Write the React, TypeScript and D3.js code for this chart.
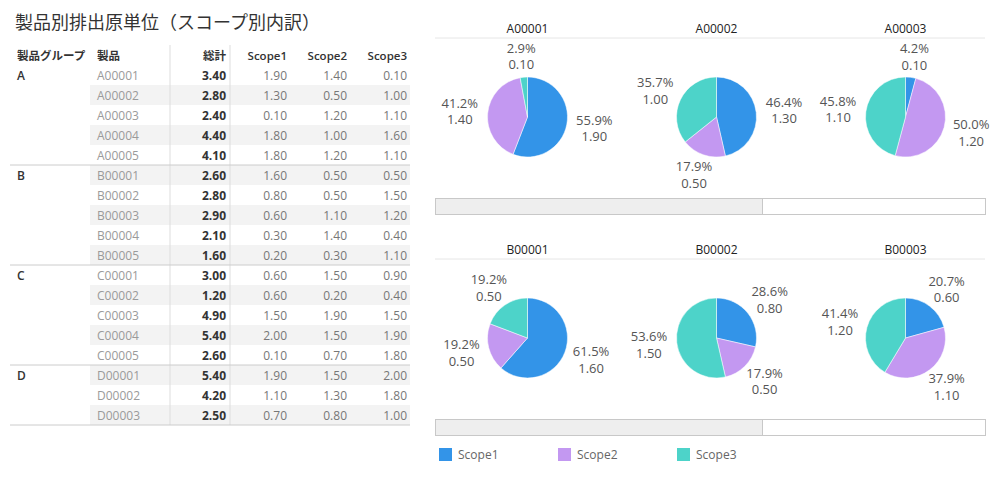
import * as d3 from 'd3';

// table data
const groups = ['A', 'B', 'C', 'D'];
const products = [
  'A00001', 'A00002', 'A00003', 'A00004', 'A00005',
  'B00001', 'B00002', 'B00003', 'B00004', 'B00005',
  'C00001', 'C00002', 'C00003', 'C00004', 'C00005',
  'D00001', 'D00002', 'D00003',
];
const productGroup = [
  'A', 'A', 'A', 'A', 'A',
  'B', 'B', 'B', 'B', 'B',
  'C', 'C', 'C', 'C', 'C',
  'D', 'D', 'D',
];
const totals = [3.4, 2.8, 2.4, 4.4, 4.1, 2.6, 2.8, 2.9, 2.1, 1.6, 3.0, 1.2, 4.9, 5.4, 2.6, 5.4, 4.2, 2.5];
const scope1 = [1.9, 1.3, 0.1, 1.8, 1.8, 1.6, 0.8, 0.6, 0.3, 0.2, 0.6, 0.6, 1.5, 2.0, 0.1, 1.9, 1.1, 0.7];
const scope2 = [1.4, 0.5, 1.2, 1.0, 1.2, 0.5, 0.5, 1.1, 1.4, 0.3, 1.5, 0.2, 1.9, 1.5, 0.7, 1.5, 1.3, 0.8];
const scope3 = [0.1, 1.0, 1.1, 1.6, 1.1, 0.5, 1.5, 1.2, 0.4, 1.1, 0.9, 0.4, 1.5, 1.9, 1.8, 2.0, 1.8, 1.0];

const scopes = ['Scope1', 'Scope2', 'Scope3'];
const scopeColors = ['#3394e8', '#c398f1', '#4dd3c9'];

// pies shown on the right
const pieRows = [
  ['A00001', 'A00002', 'A00003'],
  ['B00001', 'B00002', 'B00003'],
];

const title = '製品別排出原単位（スコープ別内訳）';
const font = '"Open Sans", "Noto Sans CJK JP", sans-serif';

interface Slice {
  scope: string;
  value: number;
}

function PiePanel({ product, cx, top }: { product: string; cx: number; top: number }) {
  const i = products.indexOf(product);
  const data: Slice[] = [
    { scope: 'Scope1', value: scope1[i] },
    { scope: 'Scope2', value: scope2[i] },
    { scope: 'Scope3', value: scope3[i] },
  ];
  const total = d3.sum(data, (d) => d.value);
  const r = 40;
  const cy = top + 84;
  const arcs = d3.pie<Slice>().sort(null).value((d) => d.value)(data);
  const arc = d3.arc<d3.PieArcDatum<Slice>>().innerRadius(0).outerRadius(r);
  const color = d3.scaleOrdinal<string, string>().domain(scopes).range(scopeColors);

  return (
    <g>
      <text x={cx} y={top} textAnchor="middle" fontSize={12} fontWeight={500} fill="#222">
        {product}
      </text>
      <g transform={`translate(${cx},${cy})`}>
        {arcs.map((a) => (
          <path key={a.data.scope} d={arc(a) ?? ''} fill={color(a.data.scope)} stroke="#fff" strokeWidth={0.5} />
        ))}
        {arcs.map((a) => {
          const mid = (a.startAngle + a.endAngle) / 2;
          // labels sit on an ellipse just outside the pie
          const lx = Math.sin(mid) * (r + 28);
          const ly = -Math.cos(mid) * (r + 21);
          return (
            <text key={'l' + a.data.scope} x={lx} y={ly} textAnchor="middle" fontSize={13} fill="#555">
              <tspan x={lx} dy={-3.5}>{d3.format('.1%')(a.data.value / total)}</tspan>
              <tspan x={lx} dy={16.5}>{d3.format('.2f')(a.data.value)}</tspan>
            </text>
          );
        })}
      </g>
    </g>
  );
}

export default function App() {
  const width = 1000;
  const height = 482;

  const y = d3.scaleBand<string>().domain(products).range([65, 425]).padding(0);
  const rowH = y.bandwidth();
  const fmt = d3.format('.2f');

  const tableLeft = 10;
  const tableRight = 410;
  const colX = { group: 17, product: 97, total: 226, s1: 287, s2: 347, s3: 407 };

  const px = d3.scaleBand<number>().domain([0, 1, 2]).range([433, 1000]);
  const rowTops = [33, 254];

  return (
    <svg
      width={width}
      height={height}
      viewBox={`0 0 ${width} ${height}`}
      style={{ position: 'absolute', left: 0, top: 0, background: '#fff', fontFamily: font }}
    >
      <text x={15} y={29} fontSize={18} fill="#333">
        {title}
      </text>

      {/* banded rows */}
      {products.map((p, i) =>
        i % 2 === 1 ? (
          <rect key={'bg' + p} x={90} y={y(p)} width={tableRight - 90} height={rowH} fill="#f3f3f3" />
        ) : null
      )}

      {/* column dividers */}
      <line x1={170} x2={170} y1={45} y2={425} stroke="#ddd" />
      <line x1={230} x2={230} y1={45} y2={425} stroke="#ddd" />

      {/* header */}
      <g fontSize={11.5} fill="#333" fontWeight={600}>
        <text x={colX.group} y={60}>製品グループ</text>
        <text x={colX.product} y={60}>製品</text>
        <text x={colX.total} y={60} textAnchor="end">総計</text>
        <text x={colX.s1} y={60} textAnchor="end">Scope1</text>
        <text x={colX.s2} y={60} textAnchor="end">Scope2</text>
        <text x={colX.s3} y={60} textAnchor="end">Scope3</text>
      </g>

      {/* group separators */}
      {groups.map((g) => {
        const first = products[productGroup.indexOf(g)];
        const gy = y(first) ?? 0;
        return (
          <g key={'grp' + g}>
            {g !== groups[0] && <line x1={tableLeft} x2={tableRight} y1={gy} y2={gy} stroke="#ccc" />}
            <text x={colX.group} y={gy + 14.5} fontSize={12} fontWeight={600} fill="#333">
              {g}
            </text>
          </g>
        );
      })}
      <line x1={tableLeft} x2={tableRight} y1={425} y2={425} stroke="#ccc" />

      {/* rows */}
      {products.map((p, i) => {
        const ty = (y(p) ?? 0) + 14.5;
        return (
          <g key={'row' + p} fontSize={12}>
            <text x={colX.product} y={ty} fill="#9a9a9a">{p}</text>
            <text x={colX.total} y={ty} textAnchor="end" fill="#333" fontWeight={700}>{fmt(totals[i])}</text>
            <text x={colX.s1} y={ty} textAnchor="end" fill="#777">{fmt(scope1[i])}</text>
            <text x={colX.s2} y={ty} textAnchor="end" fill="#777">{fmt(scope2[i])}</text>
            <text x={colX.s3} y={ty} textAnchor="end" fill="#777">{fmt(scope3[i])}</text>
          </g>
        );
      })}

      {/* pies */}
      {pieRows.map((row, ri) => {
        const top = rowTops[ri];
        return (
          <g key={'pr' + ri}>
            <line x1={435} x2={985} y1={top + 5} y2={top + 5} stroke="#e6e6e6" />
            {row.map((p, ci) => (
              <PiePanel key={p} product={p} cx={(px(ci) ?? 0) + px.bandwidth() / 2} top={top} />
            ))}
            <rect x={435.5} y={top + 165.5} width={550} height={16} fill="#fff" stroke="#c8c8c8" />
            <rect x={435.5} y={top + 165.5} width={327} height={16} fill="#eee" stroke="#c8c8c8" />
          </g>
        );
      })}

      {/* legend */}
      {scopes.map((s, i) => (
        <g key={'lg' + s} transform={`translate(${439 + i * 119},448)`}>
          <rect width={13} height={13} fill={scopeColors[i]} />
          <text x={19} y={11} fontSize={12} fill="#666">{s}</text>
        </g>
      ))}
    </svg>
  );
}
